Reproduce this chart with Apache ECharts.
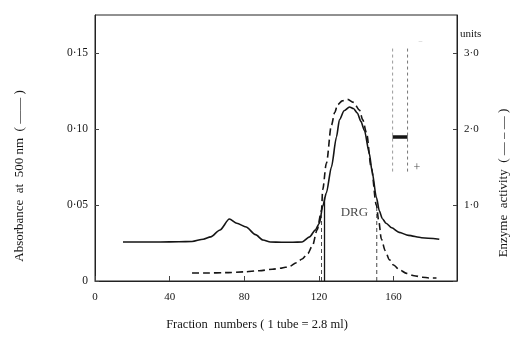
<!DOCTYPE html>
<html>
<head>
<meta charset="utf-8">
<script src="https://cdn.jsdelivr.net/npm/echarts@6/dist/echarts.min.js"></script>
<style>
  html, body { margin: 0; padding: 0; background: #fff; }
  #chart { width: 513px; height: 340px; }
</style>
</head>
<body>
<div id="chart"></div>
<script>
// absorbance at 500 nm (solid line, left axis)
var absFraction = [15, 25, 35, 45, 52, 58, 62, 67, 72, 76, 81, 86, 90, 94, 100, 106, 111, 115, 118, 120.3, 122, 124, 126.7, 129.4, 131, 133.5, 136.4, 138.5, 140.6, 142.5, 144.4, 147, 148.5, 150.8, 152.4, 154, 156, 159, 163, 168, 175, 184.5];
var absValue = [0.0257, 0.0257, 0.0257, 0.0258, 0.026, 0.0275, 0.029, 0.0336, 0.0408, 0.038, 0.0355, 0.0305, 0.027, 0.0257, 0.0255, 0.0255, 0.0257, 0.029, 0.0335, 0.038, 0.049, 0.058, 0.075, 0.0947, 0.106, 0.112, 0.1145, 0.1135, 0.1105, 0.105, 0.099, 0.084, 0.072, 0.055, 0.046, 0.041, 0.038, 0.035, 0.032, 0.030, 0.0285, 0.0275];

// enzyme activity (dashed line, right axis, units)
var enzFraction = [52, 60, 70, 80, 88, 95, 100, 104, 108, 111, 114, 116.6, 119, 121.4, 122, 124, 126.7, 128.5, 130, 132.5, 135.3, 138.5, 141.7, 143.5, 145.5, 148, 150.8, 152, 153.5, 155.5, 157.8, 160, 163, 167, 171, 175.4, 179, 183];
var enzValue = [0.105, 0.105, 0.11, 0.12, 0.135, 0.155, 0.17, 0.19, 0.24, 0.29, 0.36, 0.47, 0.67, 0.93, 1.2, 1.55, 2.05, 2.22, 2.32, 2.37, 2.39, 2.35, 2.25, 2.12, 1.95, 1.5, 1.0, 0.8, 0.55, 0.4, 0.28, 0.21, 0.15, 0.1, 0.07, 0.05, 0.04, 0.04];

// pooled fractions (DRG)
var poolX = [121.4, 123, 151];
var poolTop = [0.045, 0.055, 0.049];

// gel inset (lanes, band, electrode marks)
var gelLaneX = [159.5, 167.5];
var gelTop = 0.153, gelBottom = 0.072, gelBand = 0.0947;

var xTicks = [0, 40, 80, 120, 160];

function pairs(xs, ys) {
  return xs.map(function (x, i) { return [x, ys[i]]; });
}

var serif = '"Liberation Serif", "DejaVu Serif", serif';
var ink = '#151515';

var series = [
  {
    type: 'line', yAxisIndex: 0, data: pairs(absFraction, absValue),
    showSymbol: false, smooth: 0.25, smoothMonotone: 'x',
    lineStyle: { color: ink, width: 1.6 }
  },
  {
    type: 'line', yAxisIndex: 1, data: pairs(enzFraction, enzValue),
    showSymbol: false, smooth: 0.3, smoothMonotone: 'x',
    lineStyle: { color: ink, width: 1.6, type: [7, 4] }
  }
];

// pool boundary lines
poolX.forEach(function (x, i) {
  series.push({
    type: 'line', yAxisIndex: 0, data: [[x, 0], [x, poolTop[i]]],
    showSymbol: false, silent: true,
    lineStyle: i === 1 ? { color: ink, width: 1.3 } : { color: '#333', width: 0.9, type: [4, 3] }
  });
});

// gel lanes
gelLaneX.forEach(function (x, i) {
  series.push({
    type: 'line', yAxisIndex: 0, data: [[x, gelBottom], [x, gelTop]],
    showSymbol: false, silent: true,
    lineStyle: { color: i === 0 ? '#999' : '#777', width: 1, type: [3, 3] }
  });
});
series.push({
  type: 'line', yAxisIndex: 0, data: [[gelLaneX[0], gelBand], [gelLaneX[1], gelBand]],
  showSymbol: false, silent: true,
  lineStyle: { color: ink, width: 3.5 }
});

// text marks placed in data space
series.push({
  type: 'scatter', yAxisIndex: 0, symbolSize: 0, silent: true,
  data: [
    { value: [139, 0.0447], label: { formatter: 'DRG', fontSize: 13 } },
    { value: [172.5, 0.0743], label: { formatter: '+', fontSize: 12 } },
    { value: [174.5, 0.157], label: { formatter: '−', fontSize: 8, color: '#aaa' } }
  ],
  label: { show: true, position: 'inside', color: ink, fontFamily: serif }
});

var chart = echarts.init(document.getElementById('chart'));
chart.setOption({
  animation: false,
  backgroundColor: '#fff',
  grid: { left: 95, right: 56, top: 15, bottom: 59, show: true, borderColor: '#222', borderWidth: 1 },
  xAxis: {
    type: 'value', min: 0, max: 194, interval: 40,
    axisLine: { lineStyle: { color: '#222' } },
    axisTick: { inside: true, length: 5, lineStyle: { color: '#444' } },
    axisLabel: { showMaxLabel: false, color: ink, fontFamily: serif, fontSize: 11, margin: 11 },
    splitLine: { show: false }
  },
  yAxis: [
    {
      type: 'value', min: 0, max: 0.175, interval: 0.05,
      axisLine: { show: true, lineStyle: { color: '#222' } },
      axisTick: { show: true, inside: true, length: 4, lineStyle: { color: '#444' } },
      axisLabel: {
        showMaxLabel: false, color: ink, fontFamily: serif, fontSize: 11.5, margin: 7,
        formatter: function (v) { return v === 0 ? '0' : v.toFixed(2).replace('.', '·'); }
      },
      splitLine: { show: false }
    },
    {
      type: 'value', position: 'right', min: 0, max: 3.5, interval: 1,
      axisLine: { show: true, lineStyle: { color: '#222' } },
      axisTick: { show: true, inside: true, length: 4, lineStyle: { color: '#444' } },
      axisLabel: {
        showMaxLabel: false, color: ink, fontFamily: serif, fontSize: 11, margin: 7,
        formatter: function (v) { return v === 0 ? '' : v.toFixed(1).replace('.', '·'); }
      },
      splitLine: { show: false }
    }
  ],
  graphic: [
    {
      type: 'text', left: 460, top: 29,
      style: { text: 'units', font: '11px ' + serif, fill: ink }
    },
    {
      type: 'text', x: 20, y: 176, rotation: Math.PI / 2,
      style: { text: 'Absorbance  at  500 nm  ( —— )', font: '13px ' + serif, fill: ink, align: 'center', verticalAlign: 'middle' }
    },
    {
      type: 'text', x: 504, y: 183, rotation: Math.PI / 2,
      style: { text: 'Enzyme  activity  ( — – — )', font: '13px ' + serif, fill: ink, align: 'center', verticalAlign: 'middle' }
    },
    {
      type: 'text', x: 257, y: 325,
      style: { text: 'Fraction  numbers ( 1 tube = 2.8 ml)', font: '12.5px ' + serif, fill: ink, align: 'center', verticalAlign: 'middle' }
    }
  ],
  series: series
});
</script>
</body>
</html>
